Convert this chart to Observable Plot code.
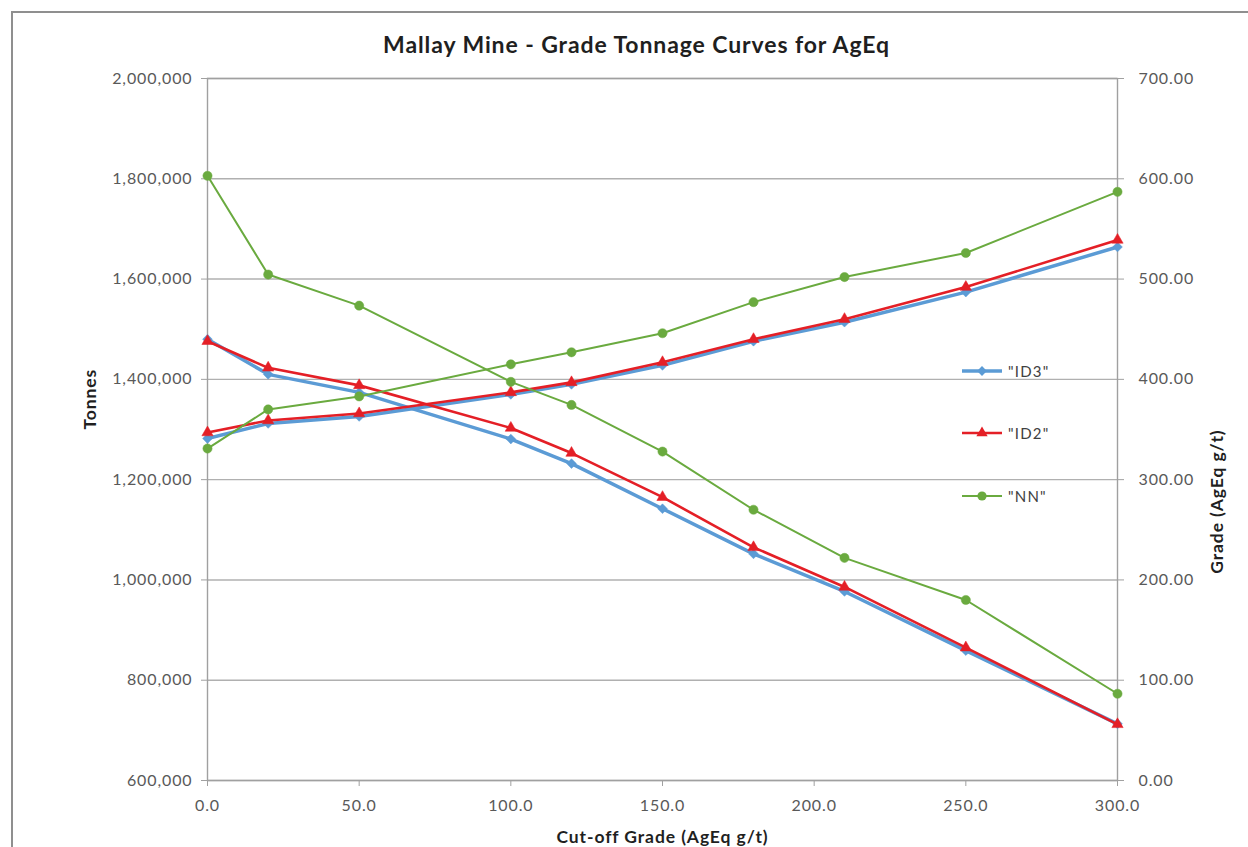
<!DOCTYPE html>
<html>
<head>
<meta charset="utf-8">
<script src="https://cdn.jsdelivr.net/npm/d3@7"></script>
<script src="https://cdn.jsdelivr.net/npm/@observablehq/plot@0.6"></script>
<style>
  body { margin: 0; background: #fff; }
  #wrap { position: relative; width: 1248px; height: 847px; overflow: hidden; font-family: Lato, "Open Sans", sans-serif; }
  #frame { position: absolute; left: 11px; top: 11px; width: 1400px; height: 1000px; border: 2px solid #8f8f8f; box-sizing: border-box; }
  #chart { position: absolute; left: 0; top: 0; }
  #legend { position: absolute; left: 960px; top: 0; }
  .item { position: absolute; left: 0; height: 20px; display: flex; align-items: center; white-space: nowrap; }
  .item span { font-size: 15px; color: #404040; letter-spacing: 1.2px; margin-left: 4px; }
</style>
</head>
<body>
<div id="wrap">
  <div id="frame"></div>
  <div id="chart"></div>
  <div id="legend"></div>
</div>
<script>
// ---- data ----
const cutoff = [0, 20, 50, 100, 120, 150, 180, 210, 250, 300];
const seriesNames = ["ID3", "ID2", "NN"];
const tonnesID3 = [1480000, 1410000, 1374000, 1281000, 1232000, 1142000, 1052000, 977000, 859000, 713000];
const tonnesID2 = [1476000, 1423000, 1388000, 1303000, 1253000, 1165000, 1065000, 986000, 865000, 712000];
const tonnesNN  = [1806000, 1609000, 1547000, 1395000, 1349000, 1256000, 1140000, 1044000, 960000, 773000];
const gradeID3 = [341, 356, 363, 385, 395, 414, 438, 457, 487, 532];
const gradeID2 = [347, 359, 366, 387, 397, 417, 440, 460, 492, 539];
const gradeNN  = [331, 370, 383, 415, 427, 446, 477, 502, 526, 587];
const xTicks = [0, 50, 100, 150, 200, 250, 300];
const tonnesTicks = [600000, 800000, 1000000, 1200000, 1400000, 1600000, 1800000, 2000000];
const gradeTicks = [0, 100, 200, 300, 400, 500, 600, 700];
const titleText = "Mallay Mine - Grade Tonnage Curves for AgEq";
const xTitle = "Cut-off Grade (AgEq g/t)";
const yLeftTitle = "Tonnes";
const yRightTitle = "Grade (AgEq g/t)";

// ---- styles ----
const colors = {ID3: "#5b9bd5", ID2: "#e41f26", NN: "#6aaa3f"};
const widths = {ID3: 3.5, ID2: 2.6, NN: 2};
const symbols = {ID3: "diamond2", ID2: "triangle", NN: "circle"};
const radii = {ID3: 4.4, ID2: 4.2, NN: 4.6};

// secondary axis mapping (grade domain -> tonnes domain)
const tDomain = [tonnesTicks[0], tonnesTicks[tonnesTicks.length - 1]];
const gDomain = [gradeTicks[0], gradeTicks[gradeTicks.length - 1]];
const k = (tDomain[1] - tDomain[0]) / (gDomain[1] - gDomain[0]);
const toT = g => tDomain[0] + (g - gDomain[0]) * k;
const fromT = t => gDomain[0] + (t - tDomain[0]) / k;

const tonnes = {ID3: tonnesID3, ID2: tonnesID2, NN: tonnesNN};
const grades = {ID3: gradeID3, ID2: gradeID2, NN: gradeNN};
const rows = [];
for (const s of seriesNames) {
  cutoff.forEach((c, j) => {
    rows.push({series: s, kind: "tonnes", x: c, y: tonnes[s][j]});
    rows.push({series: s, kind: "grade", x: c, y: toT(grades[s][j])});
  });
}

const font = "Lato, 'Open Sans', sans-serif";
const lineMarks = [];
for (const s of seriesNames) {
  const d = rows.filter(r => r.series === s);
  lineMarks.push(Plot.line(d, {x: "x", y: "y", z: "kind", stroke: colors[s], strokeWidth: widths[s]}));
  lineMarks.push(Plot.dot(d, {x: "x", y: "y", symbol: () => symbols[s], r: radii[s], fill: colors[s], stroke: colors[s], strokeWidth: 0.5}));
}

const titleStyle = {fontWeight: "bold", fill: "#1f1f1f", lineAnchor: "middle"};
const chart = Plot.plot({
  width: 1248,
  height: 847,
  marginLeft: 207,
  marginRight: 131,
  marginTop: 78,
  marginBottom: 67,
  style: {fontFamily: font, fontSize: "16px", background: "transparent", letterSpacing: "0.9px"},
  x: {domain: [xTicks[0], xTicks[xTicks.length - 1]]},
  y: {domain: tDomain},
  marks: [
    Plot.gridY(tonnesTicks, {stroke: "#b0b0b0", strokeOpacity: 1, strokeWidth: 1.4}),
    Plot.frame({stroke: "#a0a0a0", strokeWidth: 1.4}),
    Plot.axisY({anchor: "left", ticks: tonnesTicks, tickFormat: d3.format(","), tickSize: 6, tickPadding: 9, stroke: "#a0a0a0", fill: "#595959", label: null}),
    Plot.axisY({anchor: "right", ticks: gradeTicks.map(toT), tickFormat: t => fromT(t).toFixed(2), tickSize: 6, tickPadding: 15, stroke: "#a0a0a0", fill: "#595959", label: null}),
    Plot.axisX({ticks: xTicks, tickFormat: d => d.toFixed(1), tickSize: 6, tickPadding: 13, stroke: "#a0a0a0", fill: "#595959", label: null}),
    ...lineMarks,
    Plot.text([titleText], {frameAnchor: "top", dy: -33, dx: -26, fontSize: 23, letterSpacing: "0.6px", ...titleStyle}),
    Plot.text([xTitle], {frameAnchor: "bottom", dy: 57, fontSize: 17.5, letterSpacing: "1.2px", ...titleStyle}),
    Plot.text([yLeftTitle], {frameAnchor: "left", dx: -117, dy: 0, rotate: -90, fontSize: 17.5, letterSpacing: "1.2px", ...titleStyle}),
    Plot.text([yRightTitle], {frameAnchor: "right", dx: 100, rotate: -90, fontSize: 17.5, letterSpacing: "1.2px", ...titleStyle})
  ]
});
document.getElementById("chart").appendChild(chart);

// ---- legend (HTML, inside plot area on the right) ----
const legendTops = {ID3: 361, ID2: 423, NN: 486};
const legend = document.getElementById("legend");
for (const s of seriesNames) {
  const item = document.createElement("div");
  item.className = "item";
  item.style.top = legendTops[s] + "px";
  const sym = d3.symbol(d3[{diamond2: "symbolDiamond2", triangle: "symbolTriangle", circle: "symbolCircle"}[symbols[s]]], Math.PI * radii[s] * radii[s])();
  item.innerHTML = `<svg width="44" height="20"><line x1="2" x2="42" y1="10" y2="10" stroke="${colors[s]}" stroke-width="${widths[s]}"/><path transform="translate(22,10)" d="${sym}" fill="${colors[s]}"/></svg><span>"${s}"</span>`;
  legend.appendChild(item);
}
</script>
</body>
</html>
